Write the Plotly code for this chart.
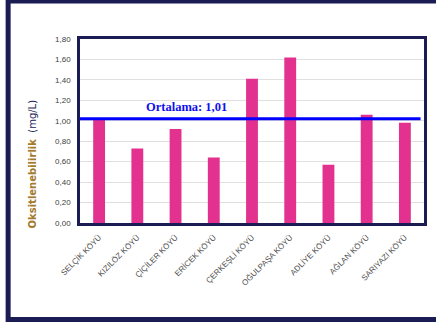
import plotly.graph_objects as go

categories = ["SELÇİK KÖYÜ", "KIZILÖZ KÖYÜ", "ÇİÇİLER KÖYÜ", "ERİCEK KÖYÜ", "ÇERKEŞLİ KÖYÜ",
              "OĞULPAŞA KÖYÜ", "ADLİYE KÖYÜ", "AĞLAN KÖYÜ", "SARIYAZI KÖYÜ"]
values = [1.02, 0.73, 0.92, 0.64, 1.41, 1.62, 0.57, 1.06, 0.98]
mean_value = 1.02
mean_label = "Ortalama: 1,01"
y_ticks = [0, 0.2, 0.4, 0.6, 0.8, 1.0, 1.2, 1.4, 1.6, 1.8]

navy = "#1c1c55"

fig = go.Figure()
fig.add_trace(go.Bar(x=categories, y=values, marker=dict(color="#e2318f", line=dict(width=0)),
                     width=0.31))

fig.add_shape(type="line", xref="paper", yref="y", x0=0, x1=0.99, y0=mean_value, y1=mean_value,
              line=dict(color="#0000ff", width=3))
fig.add_annotation(text="<b>" + mean_label + "</b>", xref="paper", yref="y",
                   x=(145 - 80) / 347, xanchor="left", y=mean_value,
                   yanchor="bottom", yshift=3, showarrow=False,
                   font=dict(family="Liberation Serif", size=12.5, color="#1010ee"))

# outer frame
fig.add_shape(type="rect", xref="paper", yref="paper",
              x0=(7.5 - 80) / 347, x1=(470 - 80) / 347,
              y0=(223 - 319.5) / 184, y1=(223 - 1) / 184,
              line=dict(color=navy, width=5), layer="below")

fig.add_annotation(
    text="<b><span style='color:#a47a2c'>Oksitlenebilirlik</span></b>  <span style='color:#1c1c55'>(mg/L)</span>",
    xref="paper", yref="paper", x=(32 - 80) / 347, xanchor="center",
    y=(223 - 164) / 184, yanchor="middle", textangle=-90,
    showarrow=False, font=dict(family="DejaVu Sans", size=10))

fig.update_layout(
    width=436, height=322,
    margin=dict(l=80, r=9, t=39, b=99),
    paper_bgcolor="white", plot_bgcolor="white",
    separators=",.",
    showlegend=False,
    bargap=0.69,
    xaxis=dict(tickangle=-45, tickfont=dict(family="Liberation Sans", size=8, color="#505050"),
               showline=True, mirror=True, linecolor=navy, linewidth=2.5, ticks="", showgrid=False,
               ticklabelstandoff=4),
    yaxis=dict(range=[0, 1.8], tickvals=y_ticks, tickformat=".2f",
               tickfont=dict(family="Liberation Sans", size=8, color="#404040"),
               showline=True, mirror=True, linecolor=navy, linewidth=2.5,
               gridcolor="#e0e0e0", gridwidth=1, zeroline=False, ticks="", ticklen=0,
               ticklabelstandoff=5),
)

fig.write_html("out.html")
